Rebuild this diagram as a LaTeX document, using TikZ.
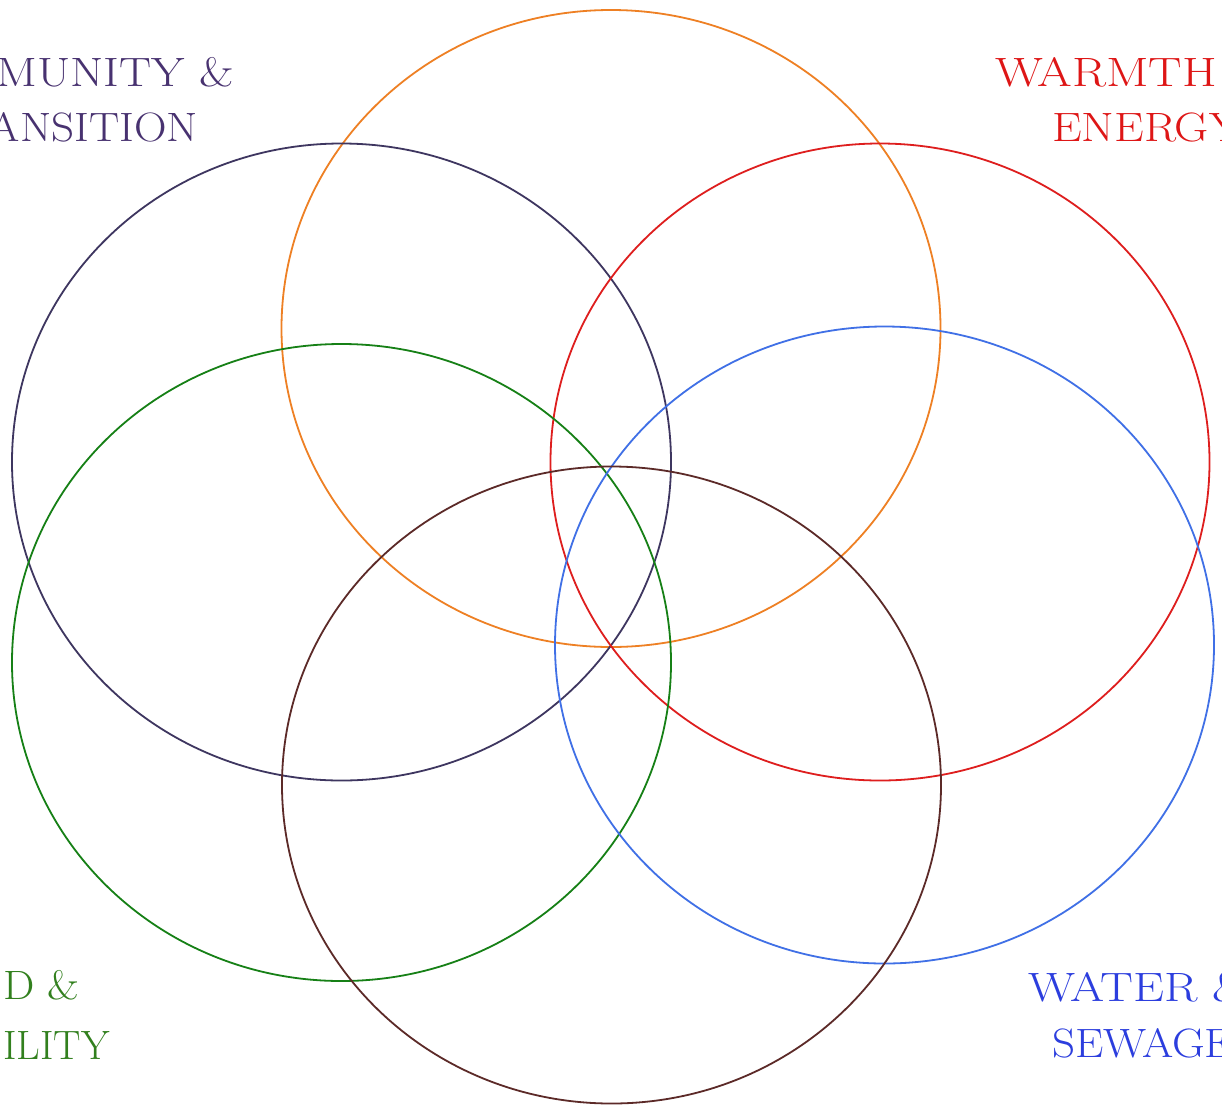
\documentclass[tikz,border=0pt]{standalone}
\usepackage{fontspec}
\usetikzlibrary{shapes.geometric}
\begin{document}
\begin{tikzpicture}[x=1pt,y=-1pt,
  ring/.style={ellipse, draw=#1, line width=1.8pt, minimum width=659pt, minimum height=637pt, inner sep=0pt},
  lbl/.style={text=#1, font=\fontsize{41}{48}\selectfont, inner sep=0pt}]
\definecolor{cOrange}{RGB}{238,128,36}
\definecolor{cNavy}{RGB}{62,54,96}
\definecolor{cRed}{RGB}{222,30,30}
\definecolor{cGreen}{RGB}{22,128,22}
\definecolor{cBlue}{RGB}{64,112,230}
\definecolor{cBrown}{RGB}{92,42,40}
\definecolor{tPurple}{RGB}{72,50,112}
\definecolor{tRed}{RGB}{222,22,22}
\definecolor{tGreen}{RGB}{50,128,30}
\definecolor{tBlue}{RGB}{44,62,222}
\useasboundingbox (0,0) rectangle (1222,1106);
\clip (0,0) rectangle (1222,1106);
\fill[white] (0,0) rectangle (1222,1106);
% circles
\node[ring=cOrange] (orange) at (611,328.5) {};
\node[ring=cNavy]   (navy)   at (341.5,462) {};
\node[ring=cRed]    (red)    at (880,462) {};
\node[ring=cGreen]  (green)  at (341.5,662.5) {};
\node[ring=cBlue]   (blue)   at (884.5,645) {};
\node[ring=cBrown]  (brown)  at (611.5,785) {};
% labels
\node[lbl=tPurple, anchor=base east] (l1) at (234,86) {\scalebox{1.17}[1]{MUNITY \&}};
\node[lbl=tPurple, anchor=base east] (l2) at (198,141) {\scalebox{1.1}[1]{ANSITION}};
\node[lbl=tRed, anchor=base west] (l3) at (995,86) {\scalebox{1.22}[1]{WARMTH}};
\node[lbl=tRed, anchor=base west] (l4) at (1052,141) {\scalebox{1.15}[1]{ENERGY}};
\node[lbl=tGreen, anchor=base west] (l5) at (3,999) {\scalebox{1.08}[1]{D \&}};
\node[lbl=tGreen, anchor=base west] (l6) at (3,1059) {ILITY};
\node[lbl=tBlue, anchor=base west] (l7) at (1028,1001) {\scalebox{1.2}[1]{WATER \&}};
\node[lbl=tBlue, anchor=base west] (l8) at (1052,1057) {\scalebox{1.1}[1]{SEWAGE}};
\end{tikzpicture}
\end{document}
